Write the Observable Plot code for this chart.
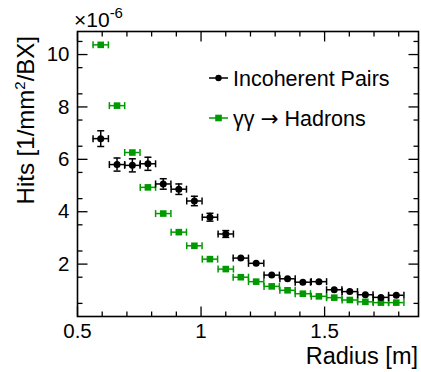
<!DOCTYPE html>
<html>
<head>
<meta charset="utf-8">
<script src="https://cdn.jsdelivr.net/npm/d3@7"></script>
<script src="https://cdn.jsdelivr.net/npm/@observablehq/plot@0.6"></script>
<style>
  html, body { margin: 0; padding: 0; background: white; }
  #chart { width: 421px; height: 372px; }
</style>
</head>
<body>
<div id="chart"></div>
<script>
// ---- data (values in units of 1e-6 hits / mm^2 / BX) ----
const radius = [0.594, 0.660, 0.722, 0.785, 0.847, 0.910, 0.973, 1.036, 1.100, 1.161,
                1.223, 1.286, 1.350, 1.412, 1.477, 1.539, 1.602, 1.665, 1.728, 1.790];
const binHalfWidth = 0.031;
const incoherentPairs = [6.79, 5.80, 5.77, 5.83, 5.06, 4.86, 4.41, 3.79, 3.15, 2.23,
                         2.03, 1.58, 1.44, 1.31, 1.33, 1.02, 0.95, 0.83, 0.73, 0.81];
const incoherentErr = [0.30, 0.25, 0.25, 0.25, 0.20, 0.20, 0.18, 0.15, 0.13, 0.10,
                       0.08, 0.07, 0.06, 0.05, 0.05, 0.04, 0.04, 0.03, 0.03, 0.03];
const gammaHadrons = [10.37, 8.05, 6.26, 4.93, 3.93, 3.22, 2.70, 2.19, 1.81, 1.50,
                      1.33, 1.15, 1.00, 0.87, 0.77, 0.72, 0.63, 0.56, 0.53, 0.53];
const gammaErr = [0.05, 0.04, 0.04, 0.03, 0.03, 0.03, 0.02, 0.02, 0.02, 0.02,
                  0.02, 0.02, 0.02, 0.02, 0.02, 0.02, 0.02, 0.02, 0.02, 0.02];
const seriesNames = ["Incoherent Pairs", "\u03b3\u03b3 \u2192 Hadrons"];
const xTickValues = [0.5, 1, 1.5];
const yTickValues = [2, 4, 6, 8, 10];
const xDomain = [0.5, 1.88];
const yDomain = [0, 10.88];

const GREEN = "#009a00";
const FONT = "'Liberation Sans', Arial, Helvetica, sans-serif";

const pairs = radius.map((r, i) => ({r, v: incoherentPairs[i], e: incoherentErr[i]}));
const hadrons = radius.map((r, i) => ({r, v: gammaHadrons[i], e: gammaErr[i]}));

// custom line symbols (pixel sized)
const lineSym = (x1, y1, x2, y2) => ({draw(ctx) { ctx.moveTo(x1, y1); ctx.lineTo(x2, y2); }});
const capV = lineSym(0, -3.5, 0, 3.5);   // vertical cap at ends of horizontal bars
const capH = lineSym(-3.5, 0, 3.5, 0);   // horizontal cap at ends of vertical bars
const squareSym = {draw(ctx) { ctx.rect(-3.3, -3.3, 6.6, 6.6); }};

const xMinor = d3.range(0.6, 1.85, 0.1).filter(v => Math.abs(v - 1) > 1e-6 && Math.abs(v - 1.5) > 1e-6);
const yMinor = d3.range(0.5, 10.8, 1);

function errorMarks(data, color, marker, markerR) {
  return [
    Plot.ruleY(data, {y: "v", x1: d => d.r - binHalfWidth, x2: d => d.r + binHalfWidth, stroke: color, strokeWidth: 1.5}),
    Plot.ruleX(data, {x: "r", y1: d => d.v - d.e, y2: d => d.v + d.e, stroke: color, strokeWidth: 1.5}),
    Plot.dot(data, {x: d => d.r - binHalfWidth, y: "v", symbol: capV, stroke: color, strokeWidth: 1.5, fill: "none"}),
    Plot.dot(data, {x: d => d.r + binHalfWidth, y: "v", symbol: capV, stroke: color, strokeWidth: 1.5, fill: "none"}),
    Plot.dot(data.filter(d => d.e > 0.1), {x: "r", y: d => d.v - d.e, symbol: capH, stroke: color, strokeWidth: 1.5, fill: "none"}),
    Plot.dot(data.filter(d => d.e > 0.1), {x: "r", y: d => d.v + d.e, symbol: capH, stroke: color, strokeWidth: 1.5, fill: "none"}),
    Plot.dot(data, {x: "r", y: "v", symbol: marker, r: markerR, fill: color, stroke: "none"})
  ];
}

const tickMarks = (values, anchor, len) => {
  const sym = {
    bottom: lineSym(0, 0, 0, -len),
    top: lineSym(0, 0, 0, len),
    left: lineSym(0, 0, len, 0),
    right: lineSym(0, 0, -len, 0)
  }[anchor];
  const horizontal = anchor === "bottom" || anchor === "top";
  return Plot.dot(values, {
    ...(horizontal ? {x: d => d} : {y: d => d}),
    frameAnchor: anchor, symbol: sym, stroke: "black", strokeWidth: 1.3, fill: "none"
  });
};

const chart = Plot.plot({
  width: 421,
  height: 372,
  marginLeft: 77,
  marginRight: 3,
  marginTop: 31,
  marginBottom: 56,
  style: {fontFamily: FONT, background: "white", color: "black"},
  x: {domain: xDomain},
  y: {domain: yDomain},
  marks: [
    ...errorMarks(hadrons, GREEN, squareSym, 3.5),
    ...errorMarks(pairs, "black", "circle", 3.5),
    tickMarks(xTickValues, "bottom", 10),
    tickMarks(xMinor, "bottom", 5),
    tickMarks(xTickValues, "top", 10),
    tickMarks(xMinor, "top", 5),
    tickMarks(yTickValues, "left", 10),
    tickMarks(yMinor, "left", 5),
    tickMarks(yTickValues, "right", 10),
    tickMarks(yMinor, "right", 5),
    Plot.axisX({ticks: xTickValues, tickSize: 0, tickPadding: 7, fontSize: 20.5, label: null, tickFormat: d => String(d)}),
    Plot.axisY({ticks: yTickValues, tickSize: 0, tickPadding: 8, fontSize: 20.5, label: null, tickFormat: d => String(d)}),
    Plot.frame({stroke: "black", strokeWidth: 1.6})
  ]
});

document.getElementById("chart").appendChild(chart);

// ---- annotations: axis titles, exponent, legend ----
const svg = d3.select(chart);
const g = svg.append("g").attr("font-family", FONT).attr("fill", "black")
  .attr("text-anchor", "start");

// x axis title
g.append("text").attr("x", 418).attr("y", 364).attr("text-anchor", "end")
  .attr("font-size", 23.5).text("Radius [m]");

// y axis title
const yt = g.append("text").attr("transform", "translate(34,36) rotate(-90)")
  .attr("text-anchor", "end").attr("font-size", 24);
yt.append("tspan").text("Hits [1/mm");
yt.append("tspan").attr("font-size", 15).attr("dy", -9).text("2");
yt.append("tspan").attr("dy", 9).text("/BX]");

// exponent
const ex = g.append("text").attr("x", 74).attr("y", 27).attr("font-size", 21);
ex.append("tspan").text("\u00d710");
ex.append("tspan").attr("font-size", 15).attr("dy", -9).text("-6");

// legend
const legend = [
  {y: 78, color: "black", name: seriesNames[0], marker: "circle"},
  {y: 118, color: GREEN, name: seriesNames[1], marker: "square"}
];
legend.forEach(d => {
  g.append("line").attr("x1", 209).attr("x2", 228).attr("y1", d.y).attr("y2", d.y)
    .attr("stroke", d.color).attr("stroke-width", 1.5);
  if (d.marker === "circle") {
    g.append("circle").attr("cx", 218.5).attr("cy", d.y).attr("r", 3.2).attr("fill", d.color);
  } else {
    g.append("rect").attr("x", 215.2).attr("y", d.y - 3.3).attr("width", 6.6).attr("height", 6.6).attr("fill", d.color);
  }
  const t = g.append("text").attr("x", 233).attr("y", d.y).attr("dy", "0.36em").attr("font-size", 21.5);
  const parts = d.name.split("\u2192");
  if (parts.length === 2) {
    t.append("tspan").text(parts[0]);
    t.append("tspan").attr("font-family", "'DejaVu Sans', sans-serif").text("\u2192");
    t.append("tspan").text(parts[1]);
  } else {
    t.text(d.name);
  }
});
</script>
</body>
</html>
